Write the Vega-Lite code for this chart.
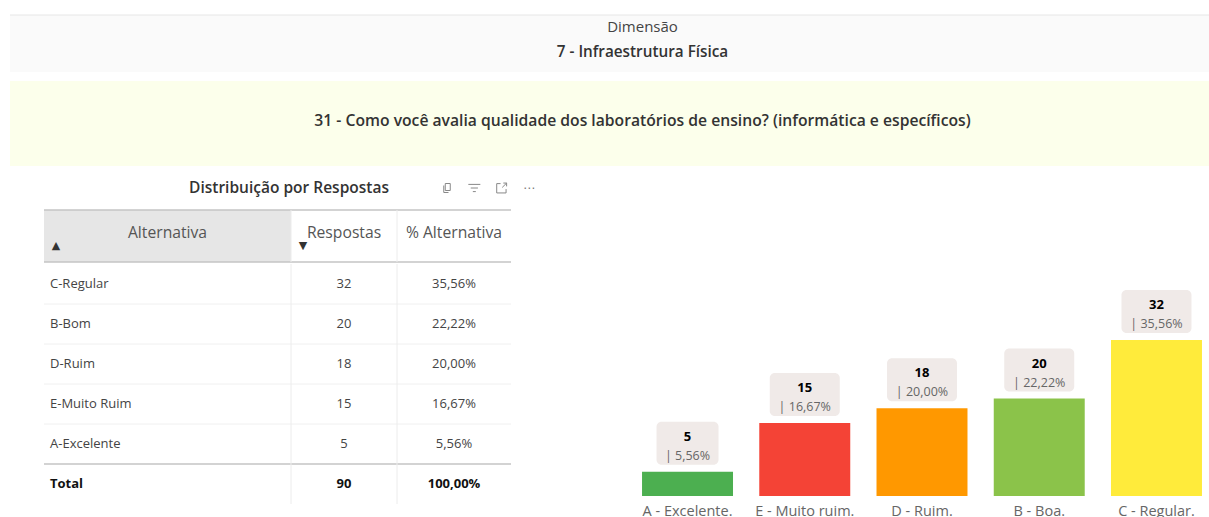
{
"$schema":"https://vega.github.io/schema/vega-lite/v6.json",
"padding":{"left":9,"top":14,"right":0,"bottom":0},
"background":"white",
"config":{"view":{"stroke":null},"concat":{"spacing":0},"text":{"font":"Open Sans"},"axis":{"labelFont":"Open Sans"}},
"datasets":{
"rows":[{"row":"C-Regular","n":32,"pct":"35,56%"},{"row":"B-Bom","n":20,"pct":"22,22%"},{"row":"D-Ruim","n":18,"pct":"20,00%"},{"row":"E-Muito Ruim","n":15,"pct":"16,67%"},{"row":"A-Excelente","n":5,"pct":"5,56%"},{"row":"Total","n":90,"pct":"100,00%"}],
"bars":[{"alt":"A - Excelente.","n":5,"pct":"| 5,56%"},{"alt":"E - Muito ruim.","n":15,"pct":"| 16,67%"},{"alt":"D - Ruim.","n":18,"pct":"| 20,00%"},{"alt":"B - Boa.","n":20,"pct":"| 22,22%"},{"alt":"C - Regular.","n":32,"pct":"| 35,56%"}],
"icons":[{"icon":"copy"},{"icon":"filter"},{"icon":"expand"},{"icon":"⋯"}]
},
"spacing":0,
"vconcat":[
{"width":1199,"height":57,"view":{"fill":"#fafafa"},
 "layer":[
 {"data":{"values":[{"t":"top"}]},"mark":{"type":"rule","color":"#e6e6e6","strokeWidth":1},"encoding":{"y":{"datum":1,"type":"quantitative","scale":{"domain":[0,1]},"axis":null}}},
 {"data":{"values":[{"t":"Dimensão"}]},"mark":{"type":"text","fontSize":15,"color":"#444","dx":33,"dy":-16.5},"encoding":{"text":{"field":"t"}}},
 {"data":{"values":[{"t":"7 - Infraestrutura Física"}]},"mark":{"type":"text","fontSize":15.3,"fontWeight":600,"color":"#333","dx":33,"dy":8.5},"encoding":{"text":{"field":"t"}}}
 ]},
{"data":{"values":[{}]},"mark":{"type":"rule","opacity":0},"encoding":{},"width":1199,"height":8},
{"width":1199,"height":85,"view":{"fill":"#fcffeb"},
 "data":{"values":[{"t":"31 - Como você avalia qualidade dos laboratórios de ensino? (informática e específicos)"}]},
 "mark":{"type":"text","fontSize":15.7,"fontWeight":600,"color":"#333","dx":33,"dy":-3},"encoding":{"text":{"field":"t"}}},
{"spacing":0,"hconcat":[
 {"data":{"values":[{}]},"mark":{"type":"rule","opacity":0},"encoding":{},"width":33,"height":1},
 {"spacing":0,"vconcat":[
  {"width":490,"height":42,"data":{"name":"icons"},
   "encoding":{"x":{"field":"icon","type":"nominal","scale":{"type":"point","padding":0,"domain":["copy","filter","expand","⋯"],"range":[403,485]},"axis":null}},
   "layer":[
   {"data":{"values":[{"t":"Distribuição por Respostas"}]},"mark":{"type":"text","fontSize":15.5,"fontWeight":600,"color":"#333"},"encoding":{"x":null,"text":{"field":"t"}}},
   {"transform":[{"filter":"datum.icon=='copy'"}],"mark":{"type":"point","filled":false,"color":"#888","opacity":1,"strokeWidth":1,"size":100,"shape":"M-0.35,-0.9H0.65V0.5H-0.35Z M-0.65,-0.5V0.9H0.3"}},
   {"transform":[{"filter":"datum.icon=='filter'"}],"mark":{"type":"point","filled":false,"color":"#888","opacity":1,"strokeWidth":1,"size":144,"shape":"M-1,-0.6H1M-0.6,0H0.6M-0.25,0.6H0.25"}},
   {"transform":[{"filter":"datum.icon=='expand'"}],"mark":{"type":"point","filled":false,"color":"#888","opacity":1,"strokeWidth":1,"size":121,"shape":"M-0.2,-0.8H-0.9V0.9H0.8V0.2M0.1,-0.1L0.9,-0.9M0.3,-0.9H0.9V-0.3"}},
   {"transform":[{"filter":"datum.icon=='⋯'"}],"mark":{"type":"text","fontSize":12,"color":"#777","font":"DejaVu Sans"},"encoding":{"text":{"field":"icon"}}}
  ]},
  {"bounds":"flush","spacing":0,"hconcat":[
   {"width":247,"height":52,"view":{"fill":"#e6e6e6"},"layer":[
    {"data":{"values":[{"t":"Alternativa"}]},"mark":{"type":"text","fontSize":15.7,"color":"#555","dy":-3.5},"encoding":{"text":{"field":"t"}}},
    {"data":{"values":[{"t":"▲"}]},"mark":{"type":"text","fontSize":11,"font":"DejaVu Sans","color":"#333","dx":-111.5,"dy":10},"encoding":{"text":{"field":"t"}}},
    {"data":{"values":[{"e":1},{"e":0}]},"mark":{"type":"rule","color":"#c4c4c4","strokeWidth":1.5},"encoding":{"y":{"field":"e","type":"quantitative","scale":{"domain":[0,1]},"axis":null}}}
   ]},
   {"width":106,"height":52,"layer":[
    {"data":{"values":[{"t":"Respostas"}]},"mark":{"type":"text","fontSize":15.7,"color":"#555","dy":-3.5},"encoding":{"text":{"field":"t"}}},
    {"data":{"values":[{"t":"▼"}]},"mark":{"type":"text","fontSize":11,"font":"DejaVu Sans","color":"#333","dx":-41,"dy":10},"encoding":{"text":{"field":"t"}}},
    {"data":{"values":[{"e":1},{"e":0}]},"mark":{"type":"rule","color":"#c4c4c4","strokeWidth":1.5},"encoding":{"y":{"field":"e","type":"quantitative","scale":{"domain":[0,1]},"axis":null}}},
    {"data":{"values":[{"e":0}]},"mark":{"type":"rule","color":"#ececec"},"encoding":{"x":{"field":"e","type":"quantitative","scale":{"domain":[0,1]},"axis":null}}}
   ]},
   {"width":114,"height":52,"layer":[
    {"data":{"values":[{"t":"% Alternativa"}]},"mark":{"type":"text","fontSize":15.7,"color":"#555","dy":-3.5},"encoding":{"text":{"field":"t"}}},
    {"data":{"values":[{"e":1},{"e":0}]},"mark":{"type":"rule","color":"#c4c4c4","strokeWidth":1.5},"encoding":{"y":{"field":"e","type":"quantitative","scale":{"domain":[0,1]},"axis":null}}},
    {"data":{"values":[{"e":0}]},"mark":{"type":"rule","color":"#ececec"},"encoding":{"x":{"field":"e","type":"quantitative","scale":{"domain":[0,1]},"axis":null}}}
   ]}
  ]},
  {"bounds":"flush","spacing":0,"hconcat":[
   {"width":247,"height":240,"data":{"name":"rows"},
    "encoding":{"y":{"field":"row","type":"nominal","scale":{"domain":["C-Regular","B-Bom","D-Ruim","E-Muito Ruim","A-Excelente","Total"],"paddingInner":0,"paddingOuter":0},"axis":null}},
    "layer":[
    {"transform":[{"filter":"datum.row!='C-Regular'"}],"mark":{"type":"rule"},"encoding":{"y":{"field":"row","type":"nominal","bandPosition":0,"scale":{"domain":["C-Regular","B-Bom","D-Ruim","E-Muito Ruim","A-Excelente","Total"],"paddingInner":0,"paddingOuter":0},"axis":null},"color":{"condition":{"test":"datum.row=='Total'","value":"#c4c4c4"},"value":"#f0f0f0"},"strokeWidth":{"condition":{"test":"datum.row=='Total'","value":1.5},"value":1}}},
    {"transform":[{"filter":"datum.row!='Total'"}],"mark":{"type":"text","align":"left","dx":6,"fontSize":13,"color":"#444"},"encoding":{"x":{"datum":0,"type":"quantitative","scale":{"domain":[0,1]},"axis":null},"text":{"field":"row"}}},
    {"transform":[{"filter":"datum.row=='Total'"}],"mark":{"type":"text","align":"left","dx":6,"fontSize":13,"fontWeight":"bold","color":"#111"},"encoding":{"x":{"datum":0,"type":"quantitative","scale":{"domain":[0,1]},"axis":null},"text":{"field":"row"}}}
   ]},
   {"width":106,"height":240,"data":{"name":"rows"},
    "encoding":{"y":{"field":"row","type":"nominal","scale":{"domain":["C-Regular","B-Bom","D-Ruim","E-Muito Ruim","A-Excelente","Total"],"paddingInner":0,"paddingOuter":0},"axis":null}},
    "layer":[
    {"transform":[{"filter":"datum.row!='C-Regular'"}],"mark":{"type":"rule"},"encoding":{"y":{"field":"row","type":"nominal","bandPosition":0,"scale":{"domain":["C-Regular","B-Bom","D-Ruim","E-Muito Ruim","A-Excelente","Total"],"paddingInner":0,"paddingOuter":0},"axis":null},"color":{"condition":{"test":"datum.row=='Total'","value":"#c4c4c4"},"value":"#f0f0f0"},"strokeWidth":{"condition":{"test":"datum.row=='Total'","value":1.5},"value":1}}},
    {"transform":[{"filter":"datum.row=='C-Regular'"}],"mark":{"type":"rule","color":"#ececec"},"encoding":{"x":{"datum":0,"type":"quantitative","scale":{"domain":[0,1]},"axis":null},"y":null}},
    {"transform":[{"filter":"datum.row!='Total'"}],"mark":{"type":"text","fontSize":13,"color":"#444"},"encoding":{"text":{"field":"n"}}},
    {"transform":[{"filter":"datum.row=='Total'"}],"mark":{"type":"text","fontSize":13,"fontWeight":"bold","color":"#111"},"encoding":{"text":{"field":"n"}}}
   ]},
   {"width":114,"height":240,"data":{"name":"rows"},
    "encoding":{"y":{"field":"row","type":"nominal","scale":{"domain":["C-Regular","B-Bom","D-Ruim","E-Muito Ruim","A-Excelente","Total"],"paddingInner":0,"paddingOuter":0},"axis":null}},
    "layer":[
    {"transform":[{"filter":"datum.row!='C-Regular'"}],"mark":{"type":"rule"},"encoding":{"y":{"field":"row","type":"nominal","bandPosition":0,"scale":{"domain":["C-Regular","B-Bom","D-Ruim","E-Muito Ruim","A-Excelente","Total"],"paddingInner":0,"paddingOuter":0},"axis":null},"color":{"condition":{"test":"datum.row=='Total'","value":"#c4c4c4"},"value":"#f0f0f0"},"strokeWidth":{"condition":{"test":"datum.row=='Total'","value":1.5},"value":1}}},
    {"transform":[{"filter":"datum.row=='C-Regular'"}],"mark":{"type":"rule","color":"#ececec"},"encoding":{"x":{"datum":0,"type":"quantitative","scale":{"domain":[0,1]},"axis":null},"y":null}},
    {"transform":[{"filter":"datum.row!='Total'"}],"mark":{"type":"text","fontSize":13,"color":"#444"},"encoding":{"text":{"field":"pct"}}},
    {"transform":[{"filter":"datum.row=='Total'"}],"mark":{"type":"text","fontSize":13,"fontWeight":"bold","color":"#111"},"encoding":{"text":{"field":"pct"}}}
   ]}
  ]}
 ]},
 {"data":{"values":[{}]},"mark":{"type":"rule","opacity":0},"encoding":{},"width":99,"height":1},
 {"width":574,"height":329,"data":{"name":"bars"},
  "encoding":{
   "x":{"field":"alt","type":"nominal","sort":null,"scale":{"paddingInner":0.224,"paddingOuter":0.06},"axis":{"title":null,"domain":false,"ticks":false,"labelAngle":0,"labelFontSize":14.5,"labelColor":"#666","labelPadding":8,"labelLimit":0}}
  },
  "layer":[
   {"mark":{"type":"bar"},"encoding":{"y":{"field":"n","type":"quantitative","scale":{"domain":[0,67.49],"nice":false},"axis":null},"color":{"field":"alt","type":"nominal","sort":null,"scale":{"range":["#4caf50","#f44336","#ff9800","#8bc34a","#ffeb3b"]},"legend":null}}},
   {"transform":[{"filter":"datum.n>5"}],"mark":{"type":"rect","width":70,"cornerRadius":5,"color":"#f0eae8","yOffset":-50,"y2Offset":-7},"encoding":{"y":{"field":"n","type":"quantitative"},"y2":{"field":"n"}}},
   {"transform":[{"filter":"datum.n==5"}],"mark":{"type":"rect","width":62,"cornerRadius":5,"color":"#f0eae8","yOffset":-50,"y2Offset":-7},"encoding":{"y":{"field":"n","type":"quantitative"},"y2":{"field":"n"}}},
   {"mark":{"type":"text","fontSize":13,"fontWeight":"bold","color":"#000","dy":-35},"encoding":{"y":{"field":"n","type":"quantitative"},"text":{"field":"n"}}},
   {"mark":{"type":"text","fontSize":12.5,"color":"#666","dy":-16},"encoding":{"y":{"field":"n","type":"quantitative"},"text":{"field":"pct"}}}
  ]}
]}
]}
